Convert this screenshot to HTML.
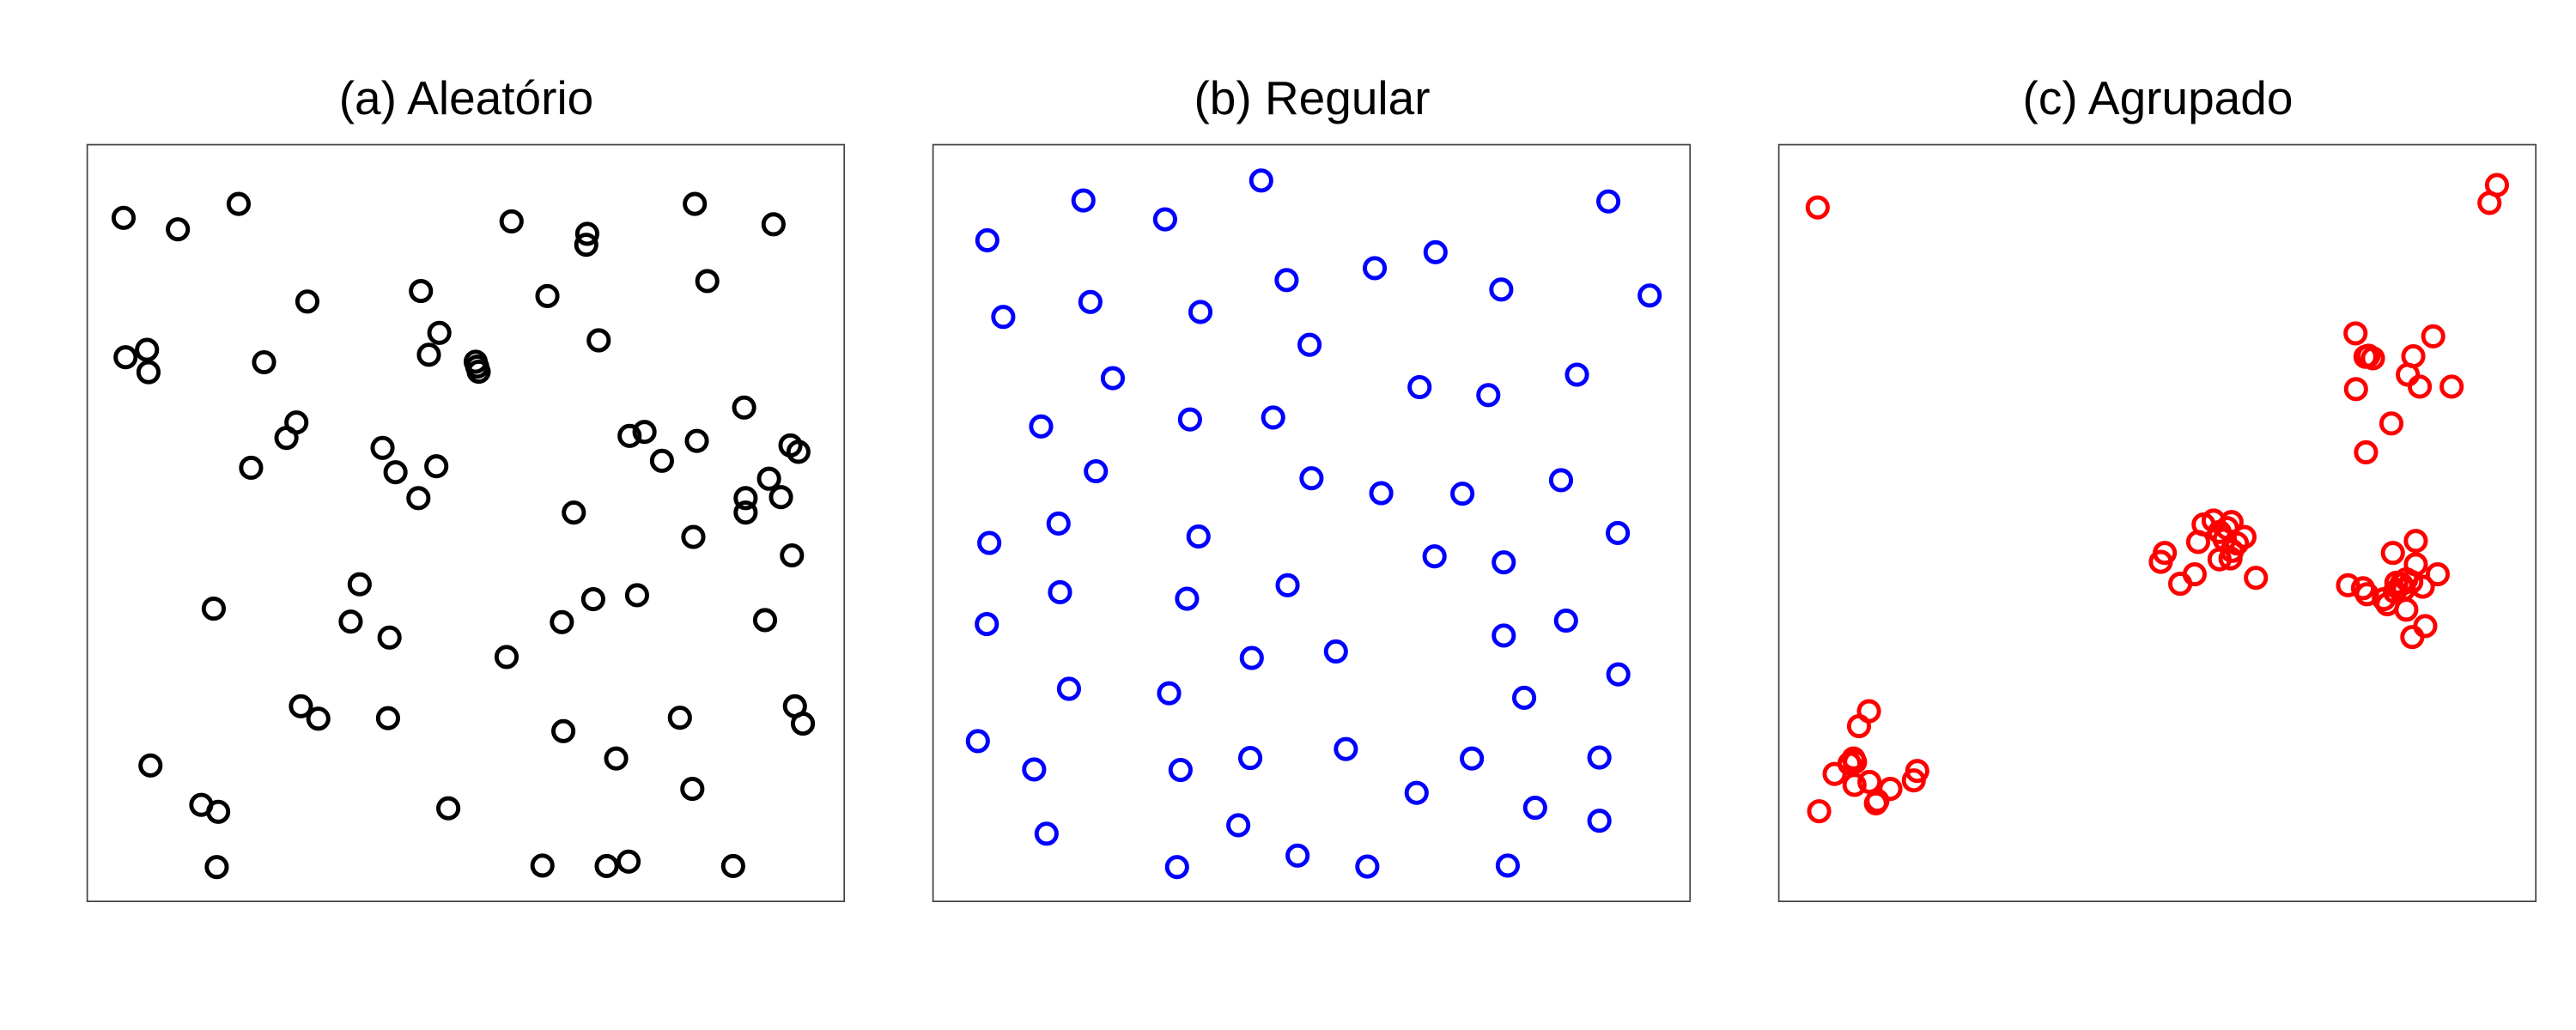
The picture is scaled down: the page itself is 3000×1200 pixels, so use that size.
<!DOCTYPE html>
<html><head><meta charset="utf-8"><style>
html,body{margin:0;padding:0;background:#fff;}
svg{display:block;}
text{font-family:"Liberation Sans",sans-serif;font-size:55px;fill:#000;}
</style></head><body>
<svg width="3000" height="1200" viewBox="0 0 3000 1200" xmlns="http://www.w3.org/2000/svg">
<rect width="3000" height="1200" fill="#fff"/>
<text x="543" y="133" text-anchor="middle">(a) Aleatório</text>
<text x="1528" y="133" text-anchor="middle">(b) Regular</text>
<text x="2513" y="133" text-anchor="middle">(c) Agrupado</text>

<g transform="translate(90,150) scale(0.580)">
<rect x="20" y="32" width="1520" height="1520" fill="none" stroke="#444" stroke-width="3"/>
<g fill="none" stroke="#000" stroke-width="8.5">
<circle cx="93" cy="179" r="20"/><circle cx="202" cy="202" r="20"/><circle cx="324" cy="151" r="20"/><circle cx="872" cy="186" r="20"/><circle cx="1024" cy="211" r="20"/><circle cx="1022" cy="233" r="20"/><circle cx="1240" cy="151" r="20"/><circle cx="1398" cy="192" r="20"/><circle cx="1265" cy="306" r="20"/><circle cx="690" cy="326" r="20"/><circle cx="944" cy="336" r="20"/><circle cx="462" cy="347" r="20"/><circle cx="727" cy="410" r="20"/><circle cx="1047" cy="425" r="20"/><circle cx="97" cy="459" r="20"/><circle cx="140" cy="444" r="20"/><circle cx="143" cy="489" r="20"/><circle cx="375" cy="469" r="20"/><circle cx="706" cy="454" r="20"/><circle cx="800" cy="468" r="20"/><circle cx="803" cy="478" r="20"/><circle cx="806" cy="488" r="20"/><circle cx="1339" cy="560" r="20"/><circle cx="440" cy="590" r="20"/><circle cx="420" cy="621" r="20"/><circle cx="613" cy="641" r="20"/><circle cx="1109" cy="617" r="20"/><circle cx="1139" cy="609" r="20"/><circle cx="1244" cy="627" r="20"/><circle cx="1174" cy="667" r="20"/><circle cx="1432" cy="636" r="20"/><circle cx="1448" cy="649" r="20"/><circle cx="349" cy="681" r="20"/><circle cx="639" cy="690" r="20"/><circle cx="721" cy="678" r="20"/><circle cx="685" cy="742" r="20"/><circle cx="1389" cy="703" r="20"/><circle cx="1413" cy="740" r="20"/><circle cx="1342" cy="742" r="20"/><circle cx="1342" cy="771" r="20"/><circle cx="997" cy="771" r="20"/><circle cx="1237" cy="820" r="20"/><circle cx="1435" cy="857" r="20"/><circle cx="567" cy="915" r="20"/><circle cx="274" cy="964" r="20"/><circle cx="549" cy="990" r="20"/><circle cx="627" cy="1022" r="20"/><circle cx="1036" cy="945" r="20"/><circle cx="1124" cy="937" r="20"/><circle cx="973" cy="991" r="20"/><circle cx="1381" cy="987" r="20"/><circle cx="862" cy="1061" r="20"/><circle cx="449" cy="1160" r="20"/><circle cx="484" cy="1185" r="20"/><circle cx="624" cy="1184" r="20"/><circle cx="976" cy="1210" r="20"/><circle cx="1210" cy="1183" r="20"/><circle cx="1441" cy="1160" r="20"/><circle cx="1457" cy="1195" r="20"/><circle cx="1082" cy="1265" r="20"/><circle cx="147" cy="1279" r="20"/><circle cx="249" cy="1358" r="20"/><circle cx="283" cy="1372" r="20"/><circle cx="745" cy="1365" r="20"/><circle cx="1235" cy="1326" r="20"/><circle cx="280" cy="1483" r="20"/><circle cx="934" cy="1480" r="20"/><circle cx="1063" cy="1481" r="20"/><circle cx="1107" cy="1472" r="20"/><circle cx="1317" cy="1481" r="20"/>
</g></g>

<g transform="translate(1075,150) scale(0.580)">
<rect x="20" y="32" width="1520" height="1520" fill="none" stroke="#444" stroke-width="3"/>
<g fill="none" stroke="#0000ff" stroke-width="8.5">
<circle cx="679" cy="104" r="20"/><circle cx="322" cy="144" r="20"/><circle cx="1376" cy="146" r="20"/><circle cx="486" cy="182" r="20"/><circle cx="129" cy="224" r="20"/><circle cx="1029" cy="248" r="20"/><circle cx="907" cy="280" r="20"/><circle cx="730" cy="304" r="20"/><circle cx="1161" cy="323" r="20"/><circle cx="1459" cy="335" r="20"/><circle cx="336" cy="348" r="20"/><circle cx="557" cy="368" r="20"/><circle cx="161" cy="378" r="20"/><circle cx="776" cy="434" r="20"/><circle cx="381" cy="501" r="20"/><circle cx="997" cy="519" r="20"/><circle cx="1135" cy="535" r="20"/><circle cx="1313" cy="494" r="20"/><circle cx="237" cy="598" r="20"/><circle cx="536" cy="584" r="20"/><circle cx="703" cy="580" r="20"/><circle cx="347" cy="688" r="20"/><circle cx="780" cy="702" r="20"/><circle cx="920" cy="732" r="20"/><circle cx="1083" cy="733" r="20"/><circle cx="1281" cy="706" r="20"/><circle cx="272" cy="793" r="20"/><circle cx="133" cy="832" r="20"/><circle cx="553" cy="819" r="20"/><circle cx="1395" cy="812" r="20"/><circle cx="1027" cy="859" r="20"/><circle cx="1166" cy="871" r="20"/><circle cx="275" cy="931" r="20"/><circle cx="530" cy="944" r="20"/><circle cx="732" cy="917" r="20"/><circle cx="128" cy="995" r="20"/><circle cx="1166" cy="1018" r="20"/><circle cx="1291" cy="988" r="20"/><circle cx="660" cy="1063" r="20"/><circle cx="829" cy="1050" r="20"/><circle cx="293" cy="1125" r="20"/><circle cx="494" cy="1134" r="20"/><circle cx="1396" cy="1096" r="20"/><circle cx="1207" cy="1143" r="20"/><circle cx="110" cy="1230" r="20"/><circle cx="223" cy="1287" r="20"/><circle cx="517" cy="1288" r="20"/><circle cx="657" cy="1264" r="20"/><circle cx="849" cy="1246" r="20"/><circle cx="1102" cy="1265" r="20"/><circle cx="1358" cy="1263" r="20"/><circle cx="991" cy="1334" r="20"/><circle cx="1229" cy="1364" r="20"/><circle cx="1358" cy="1390" r="20"/><circle cx="248" cy="1416" r="20"/><circle cx="633" cy="1399" r="20"/><circle cx="752" cy="1460" r="20"/><circle cx="510" cy="1483" r="20"/><circle cx="892" cy="1482" r="20"/><circle cx="1174" cy="1480" r="20"/>
</g></g>

<g transform="translate(2060,150) scale(0.580)">
<rect x="20" y="32" width="1520" height="1520" fill="none" stroke="#444" stroke-width="3"/>
<g fill="none" stroke="#ff0000" stroke-width="8.5">
<circle cx="98" cy="158" r="20"/><circle cx="1462" cy="113" r="20"/><circle cx="1447" cy="149" r="20"/><circle cx="1178" cy="411" r="20"/><circle cx="1334" cy="417" r="20"/><circle cx="1198" cy="458" r="20"/><circle cx="1213" cy="461" r="20"/><circle cx="1204" cy="456" r="20"/><circle cx="1294" cy="457" r="20"/><circle cx="1283" cy="494" r="20"/><circle cx="1307" cy="518" r="20"/><circle cx="1371" cy="518" r="20"/><circle cx="1179" cy="523" r="20"/><circle cx="1250" cy="592" r="20"/><circle cx="1199" cy="650" r="20"/>
<circle cx="873" cy="795" r="20"/><circle cx="893" cy="787" r="20"/><circle cx="929" cy="790" r="20"/><circle cx="920" cy="802" r="20"/><circle cx="905" cy="810" r="20"/><circle cx="955" cy="820" r="20"/><circle cx="915" cy="825" r="20"/><circle cx="940" cy="833" r="20"/><circle cx="862" cy="830" r="20"/><circle cx="930" cy="848" r="20"/><circle cx="905" cy="865" r="20"/><circle cx="927" cy="863" r="20"/><circle cx="795" cy="852" r="20"/><circle cx="787" cy="870" r="20"/><circle cx="855" cy="895" r="20"/><circle cx="826" cy="914" r="20"/><circle cx="978" cy="902" r="20"/>
<circle cx="1299" cy="828" r="20"/><circle cx="1253" cy="852" r="20"/><circle cx="1299" cy="875" r="20"/><circle cx="1343" cy="895" r="20"/><circle cx="1163" cy="917" r="20"/><circle cx="1193" cy="923" r="20"/><circle cx="1201" cy="935" r="20"/><circle cx="1235" cy="945" r="20"/><circle cx="1242" cy="955" r="20"/><circle cx="1260" cy="912" r="20"/><circle cx="1280" cy="905" r="20"/><circle cx="1290" cy="910" r="20"/><circle cx="1275" cy="925" r="20"/><circle cx="1313" cy="920" r="20"/><circle cx="1270" cy="915" r="20"/><circle cx="1280" cy="966" r="20"/><circle cx="1318" cy="999" r="20"/><circle cx="1292" cy="1021" r="20"/><circle cx="1257" cy="930" r="20"/>
<circle cx="201" cy="1170" r="20"/><circle cx="181" cy="1200" r="20"/><circle cx="170" cy="1265" r="20"/><circle cx="162" cy="1275" r="20"/><circle cx="173" cy="1272" r="20"/><circle cx="132" cy="1296" r="20"/><circle cx="172" cy="1318" r="20"/><circle cx="202" cy="1312" r="20"/><circle cx="244" cy="1326" r="20"/><circle cx="215" cy="1355" r="20"/><circle cx="218" cy="1350" r="20"/><circle cx="298" cy="1290" r="20"/><circle cx="291" cy="1309" r="20"/><circle cx="101" cy="1371" r="20"/>
</g></g>
</svg>
</body></html>
